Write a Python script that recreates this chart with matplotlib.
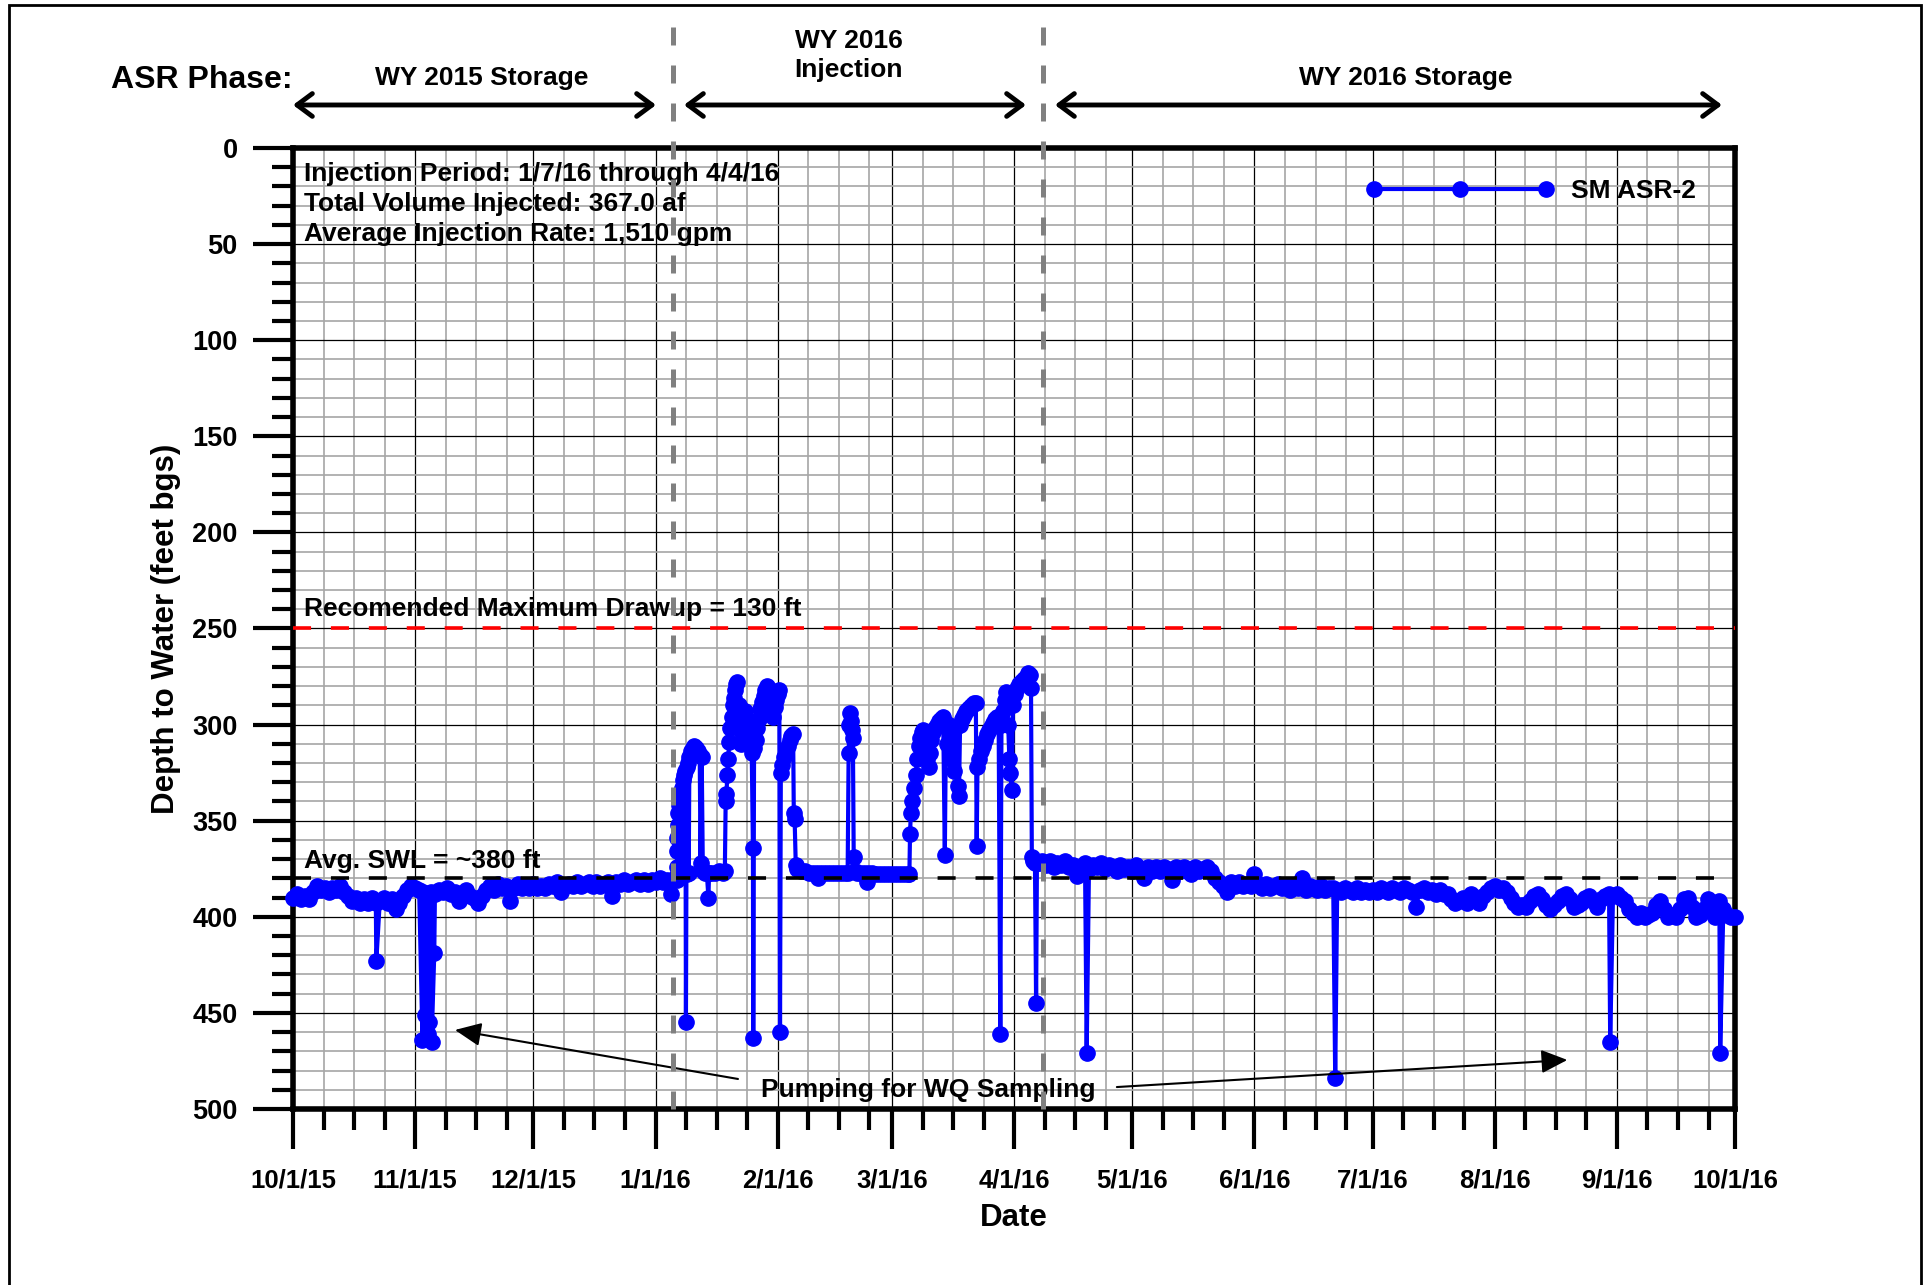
import matplotlib
matplotlib.use('Agg')
import matplotlib.pyplot as plt
import matplotlib.dates as mdates
from matplotlib.ticker import MultipleLocator, FixedLocator
from matplotlib.legend_handler import HandlerLine2D
from matplotlib.patches import Rectangle
import pandas as pd

plt.rcParams['font.family'] = ['Liberation Sans', 'DejaVu Sans']
plt.rcParams['font.weight'] = 'bold'

# daily depth to water, WY 2015 storage (10/1/15 - 1/6/16)
storage15_start = '2015-10-01'
storage15_oct = [390, 388, 391, 389, 391, 387, 384, 386, 385, 387, 385, 386, 384, 387, 389, 392,
                 390, 393, 391, 393, 390, 393, 392, 390, 393, 391, 396, 393, 389, 386, 384]
storage15_nov = [385, 386, 387, 388, 387, 388, 386, 387, 385, 388, 387, 392, 388, 386, 389, 390,
                 393, 389, 386, 384, 386, 383, 385, 384, 392, 385, 383, 385, 384, 385]
storage15_dec = [383, 385, 384, 385, 383, 384, 382, 387, 384, 383, 384, 382, 384, 383, 382, 384,
                 382, 384, 383, 382, 389, 382, 383, 381, 383, 382, 381, 383, 381, 383, 381]
storage15_jan = [382, 380, 382, 381, 388, 380]

# injection period readings (irregular times)
injection_time = [
    '2016-01-06 10:00', '2016-01-06 11:00', '2016-01-06 12:00', '2016-01-06 13:00',
    '2016-01-06 14:00', '2016-01-06 17:00', '2016-01-06 19:00', '2016-01-06 22:00',
    '2016-01-07 00:00', '2016-01-07 04:00', '2016-01-07 07:00', '2016-01-07 10:00',
    '2016-01-07 14:00', '2016-01-07 19:00', '2016-01-08 00:00', '2016-01-08 04:00',
    '2016-01-08 07:00', '2016-01-08 14:00', '2016-01-08 17:00', '2016-01-08 22:00',
    '2016-01-09 02:00', '2016-01-09 05:00', '2016-01-09 10:00', '2016-01-09 14:00',
    '2016-01-10 00:00', '2016-01-10 10:00',
    '2016-01-10 19:00', '2016-01-11 07:00', '2016-01-11 19:00', '2016-01-12 05:00',
    '2016-01-12 10:00', '2016-01-12 17:00', '2016-01-13 00:00', '2016-01-13 12:00',
    '2016-01-14 00:00', '2016-01-14 10:00', '2016-01-14 14:00', '2016-01-15 00:00',
    '2016-01-16 00:00', '2016-01-17 00:00', '2016-01-18 00:00', '2016-01-18 14:00',
    '2016-01-18 19:00', '2016-01-19 00:00', '2016-01-19 05:00', '2016-01-19 10:00',
    '2016-01-19 17:00', '2016-01-20 00:00', '2016-01-20 07:00', '2016-01-20 14:00',
    '2016-01-20 22:00', '2016-01-21 05:00', '2016-01-21 12:00', '2016-01-21 19:00',
    '2016-01-22 02:00', '2016-01-22 10:00', '2016-01-22 17:00', '2016-01-23 00:00',
    '2016-01-23 10:00', '2016-01-23 19:00', '2016-01-24 05:00', '2016-01-24 14:00',
    '2016-01-25 00:00', '2016-01-25 10:00', '2016-01-25 17:00', '2016-01-25 19:00',
    '2016-01-26 00:00', '2016-01-26 10:00', '2016-01-26 19:00', '2016-01-27 05:00',
    '2016-01-27 14:00', '2016-01-28 00:00', '2016-01-28 10:00', '2016-01-28 19:00',
    '2016-01-29 05:00', '2016-01-29 14:00', '2016-01-30 00:00', '2016-01-30 10:00',
    '2016-01-30 19:00', '2016-01-31 05:00', '2016-01-31 14:00', '2016-02-01 00:00',
    '2016-02-01 10:00', '2016-02-01 14:00', '2016-02-01 19:00', '2016-02-02 05:00',
    '2016-02-02 14:00', '2016-02-03 00:00', '2016-02-03 12:00', '2016-02-04 00:00',
    '2016-02-04 12:00', '2016-02-04 22:00', '2016-02-05 02:00', '2016-02-05 07:00',
    '2016-02-05 14:00', '2016-02-06 00:00', '2016-02-07 00:00', '2016-02-08 00:00',
    '2016-02-09 00:00', '2016-02-10 00:00', '2016-02-11 00:00', '2016-02-11 07:00',
    '2016-02-12 00:00', '2016-02-13 00:00', '2016-02-14 00:00', '2016-02-15 00:00',
    '2016-02-16 00:00', '2016-02-17 00:00', '2016-02-18 00:00', '2016-02-18 18:00',
    '2016-02-19 00:00', '2016-02-19 05:00', '2016-02-19 10:00', '2016-02-19 14:00',
    '2016-02-19 22:00', '2016-02-20 02:00', '2016-02-20 07:00', '2016-02-20 14:00',
    '2016-02-21 00:00', '2016-02-22 00:00', '2016-02-23 00:00', '2016-02-23 14:00',
    '2016-02-24 00:00', '2016-02-25 00:00', '2016-02-26 00:00', '2016-02-27 00:00',
    '2016-02-28 00:00', '2016-02-29 00:00', '2016-03-01 00:00', '2016-03-02 00:00',
    '2016-03-03 00:00', '2016-03-04 00:00', '2016-03-05 00:00', '2016-03-05 10:00',
    '2016-03-05 14:00', '2016-03-05 19:00', '2016-03-06 05:00', '2016-03-06 14:00',
    '2016-03-07 00:00', '2016-03-07 10:00', '2016-03-07 19:00', '2016-03-08 05:00',
    '2016-03-08 14:00', '2016-03-09 00:00', '2016-03-09 12:00', '2016-03-10 00:00',
    '2016-03-10 07:00', '2016-03-10 14:00', '2016-03-11 00:00', '2016-03-11 12:00',
    '2016-03-12 00:00', '2016-03-12 12:00', '2016-03-13 00:00', '2016-03-13 12:00',
    '2016-03-14 00:00', '2016-03-14 10:00', '2016-03-14 17:00', '2016-03-15 02:00',
    '2016-03-15 12:00', '2016-03-16 00:00', '2016-03-16 10:00', '2016-03-16 19:00',
    '2016-03-17 05:00', '2016-03-17 17:00', '2016-03-18 00:00', '2016-03-18 07:00',
    '2016-03-18 19:00', '2016-03-19 07:00', '2016-03-19 19:00', '2016-03-20 07:00',
    '2016-03-20 19:00', '2016-03-21 07:00', '2016-03-21 19:00', '2016-03-22 07:00',
    '2016-03-22 12:00', '2016-03-22 17:00', '2016-03-23 02:00', '2016-03-23 14:00',
    '2016-03-24 02:00', '2016-03-24 14:00', '2016-03-25 02:00', '2016-03-25 14:00',
    '2016-03-26 02:00', '2016-03-26 14:00', '2016-03-27 02:00', '2016-03-27 14:00',
    '2016-03-28 02:00', '2016-03-28 12:00', '2016-03-28 19:00', '2016-03-29 05:00',
    '2016-03-29 14:00', '2016-03-30 00:00', '2016-03-30 12:00', '2016-03-30 19:00',
    '2016-03-31 02:00', '2016-03-31 10:00', '2016-03-31 17:00', '2016-04-01 05:00',
    '2016-04-01 17:00', '2016-04-02 05:00', '2016-04-02 17:00', '2016-04-03 05:00',
    '2016-04-03 17:00', '2016-04-04 05:00', '2016-04-04 14:00', '2016-04-05 00:00',
    '2016-04-05 07:00', '2016-04-05 12:00', '2016-04-05 19:00', '2016-04-06 07:00',
    '2016-04-06 14:00', '2016-04-06 19:00', '2016-04-07 07:00',
]
injection_depth = [
    381, 374, 366, 359, 352, 378, 346, 377,
    342, 379, 337, 376, 333, 378, 329, 377,
    326, 324, 455, 322, 378, 320, 377, 317,
    314, 312,
    311, 312, 314, 316, 372, 317, 376, 377,
    377, 390, 377, 377, 377, 376, 377, 376,
    340, 336, 326, 318, 309, 302, 296, 290, 286, 282, 279, 278,
    290, 300, 310, 305, 298, 293, 297, 305, 311, 315, 364, 463,
    312, 308, 302, 297, 292, 288, 285, 282, 280, 281, 287, 294,
    296, 291, 287, 284, 282, 460, 325, 321, 317, 314, 311, 308,
    306, 305, 346, 349, 373, 375, 376, 376, 377, 377, 377, 380,
    377, 377, 377, 377, 377, 377, 377, 377,
    315, 300, 294, 298, 303, 307, 369, 376,
    377, 377, 377, 382, 377, 377, 378, 378, 378, 378, 378, 378,
    378, 378, 378, 378,
    357, 346, 340, 333, 326, 318, 311, 307, 304, 303, 305, 318,
    322, 315, 308, 304, 302, 300, 298, 297, 296, 368, 299, 310,
    300, 318, 302, 324, 301, 332, 337, 300, 297, 295, 293, 292,
    291, 290, 289, 289, 363, 322, 318, 314, 311, 308, 305, 303,
    301, 299, 297, 296, 300, 461, 300, 293, 287, 283, 300, 318,
    325, 334, 290, 284, 281, 279, 278, 277, 276, 275, 273, 274,
    281, 369, 371, 372, 445, 372, 372,
]

# daily depth to water, WY 2016 storage (4/8/16 - 10/1/16)
storage16_start = '2016-04-08'
storage16_apr = [371, 373, 371, 374, 372, 373, 371, 374, 373, 379, 374, 372, 375, 373, 374, 372,
                 375, 373, 374, 376, 373, 375, 374]
storage16_may = [376, 373, 375, 380, 374, 376, 374, 376, 374, 375, 381, 374, 376, 374, 376, 378,
                 374, 376, 375, 374, 376, 380, 382, 384, 387, 382, 384, 382, 384, 383, 384]
storage16_jun = [378, 383, 385, 383, 385, 384, 383, 385, 384, 386, 384, 385, 380, 386, 384, 385,
                 386, 384, 386, 385, 385, 386, 387, 385, 386, 387, 385, 387, 386, 387]
storage16_jul = [386, 387, 385, 386, 387, 385, 386, 387, 385, 386, 387, 395, 386, 385, 387, 386,
                 388, 386, 388, 388, 391, 393, 392, 390, 393, 388, 391, 393, 389, 387, 385]
storage16_aug = [384, 386, 385, 387, 390, 393, 395, 394, 395, 392, 389, 388, 391, 394, 396, 394,
                 392, 389, 388, 391, 395, 394, 393, 390, 389, 392, 395, 391, 389, 388, 389]
storage16_sep = [388, 390, 392, 396, 398, 400, 398, 400, 399, 398, 394, 392, 396, 400, 399, 400,
                 396, 391, 390, 395, 400, 399, 396, 391, 394, 400, 392, 396, 399, 400]
storage16_oct = [400]

# pumping for water-quality sampling during storage
sampling_time = ['2015-10-22 03:00', '2015-11-02 20:00', '2015-11-03 12:00', '2015-11-04 04:00',
                 '2015-11-04 14:00', '2015-11-05 04:00', '2015-11-05 20:00', '2016-04-19 10:00',
                 '2016-06-21 12:00', '2016-08-30 07:00', '2016-09-27 05:00']
sampling_depth = [423, 464, 451, 461, 455, 465, 419, 471, 484, 465, 471]

phase_breaks = ['2016-01-05 10:00', '2016-04-08 10:00']
info_lines = ['Injection Period: 1/7/16 through 4/4/16',
              'Total Volume Injected: 367.0 af',
              'Average Injection Rate: 1,510 gpm']

# assemble the series
s15 = storage15_oct + storage15_nov + storage15_dec + storage15_jan
s16 = storage16_apr + storage16_may + storage16_jun + storage16_jul + storage16_aug + storage16_sep + storage16_oct
df = pd.concat([
    pd.DataFrame({'time': pd.date_range(storage15_start, periods=len(s15), freq='D'), 'depth': s15}),
    pd.DataFrame({'time': pd.to_datetime(injection_time), 'depth': injection_depth}),
    pd.DataFrame({'time': pd.date_range(storage16_start, periods=len(s16), freq='D'), 'depth': s16}),
    pd.DataFrame({'time': pd.to_datetime(sampling_time), 'depth': sampling_depth}),
]).sort_values('time')

fig = plt.figure(figsize=(19.32, 12.85), dpi=100)
ax = fig.add_axes([0.1517, 0.1370, 0.7464, 0.7478])

line, = ax.plot(df['time'], df['depth'], color='#0000ff', lw=3, marker='o', ms=11,
                mec='#0000ff', clip_on=False, zorder=3, label='SM ASR-2')

ax.axhline(250, color='#ff0000', lw=2.6, ls=(0, (5, 5.5)), zorder=4)
ax.axhline(380, color='black', lw=2.6, ls=(0, (5, 5.5)), zorder=4)
for t in phase_breaks:
    ax.axvline(pd.Timestamp(t), ymin=0, ymax=1.1415, color='#808080', lw=3.6,
               ls=(0, (3.6, 4.0)), clip_on=False, zorder=6)

# axes
ax.set_xlim(pd.Timestamp('2015-10-01'), pd.Timestamp('2016-10-01'))
ax.set_ylim(500, 0)
ax.xaxis.set_major_locator(mdates.MonthLocator())
ax.xaxis.set_major_formatter(mdates.DateFormatter('%-m/%-d/%y'))
months = pd.date_range('2015-10-01', '2016-09-01', freq='MS')
minor = [m + pd.Timedelta(days=7.75 * k) for m in months for k in (1, 2, 3)]
ax.xaxis.set_minor_locator(FixedLocator(mdates.date2num(minor)))
ax.yaxis.set_major_locator(MultipleLocator(50))
ax.yaxis.set_minor_locator(MultipleLocator(10))

ax.grid(which='major', color='black', lw=0.9)
ax.grid(which='minor', color='#a6a6a6', lw=1.2)
ax.set_axisbelow(True)

ax.tick_params(which='major', direction='out', length=29, width=3)
ax.tick_params(which='minor', direction='out', length=15, width=3)
ax.tick_params(axis='x', which='major', pad=14, labelsize=18.5)
ax.tick_params(axis='y', which='major', pad=11, labelsize=19.5)
for sp in ax.spines.values():
    sp.set_linewidth(4)

ax.set_xlabel('Date', fontsize=22.5, fontweight='bold', va='top')
ax.xaxis.set_label_coords(0.5, -0.0978)
ax.set_ylabel('Depth to Water (feet bgs)', fontsize=22.5, fontweight='bold')
ax.yaxis.set_label_coords(-0.078, 0.5)

# legend
ax.legend(handles=[line], loc='center left', bbox_to_anchor=(0.7497, 0.9553), frameon=False,
          fontsize=19, handlelength=6.5, handletextpad=0.97, borderpad=0, borderaxespad=0,
          handler_map={line: HandlerLine2D(numpoints=3, marker_pad=0)})

# annotations inside the plot
for s, y in zip(info_lines, [0.9661, 0.9340, 0.9033]):
    ax.text(0.0076, y, s, transform=ax.transAxes, fontsize=19, va='baseline')
ax.text(pd.Timestamp('2015-10-03 18:00'), 243.7, 'Recomended Maximum Drawup = 130 ft',
        fontsize=19, va='baseline')
ax.text(pd.Timestamp('2015-10-03 18:00'), 374.6, 'Avg. SWL = ~380 ft', fontsize=19, va='baseline')

ax.text(pd.Timestamp('2016-03-10 05:00'), 493.8, 'Pumping for WQ Sampling', fontsize=19,
        ha='center', va='baseline')
arrow = dict(arrowstyle='-|>,head_length=0.4,head_width=0.18', mutation_scale=40,
             color='black', lw=1.5, shrinkA=0, shrinkB=0)
ax.annotate('', xy=(pd.Timestamp('2015-11-11 02:00'), 458.9),
            xytext=(pd.Timestamp('2016-01-21 22:00'), 484.4), arrowprops=arrow)
ax.annotate('', xy=(pd.Timestamp('2016-08-19 10:00'), 474.5),
            xytext=(pd.Timestamp('2016-04-27 02:00'), 488.6), arrowprops=arrow)

# ASR phase header
fig.text(111 / 1932, 0.9313, 'ASR Phase:', fontsize=23, va='baseline')
fig.text(482 / 1932, 0.9335, 'WY 2015 Storage', fontsize=19, ha='center', va='baseline')
fig.text(849 / 1932, 0.9627, 'WY 2016', fontsize=19, ha='center', va='baseline')
fig.text(849 / 1932, 0.9400, 'Injection', fontsize=19, ha='center', va='baseline')
fig.text(1406 / 1932, 0.9335, 'WY 2016 Storage', fontsize=19, ha='center', va='baseline')
phase_arrow = dict(arrowstyle='<->,head_length=0.55,head_width=0.41', mutation_scale=20,
                   color='black', lw=3.5, shrinkA=0, shrinkB=0)
for x0, x1 in [(293, 656), (684, 1026), (1055, 1722)]:
    ax.annotate('', xy=(x1 / 1932, 0.9183), xytext=(x0 / 1932, 0.9183),
                xycoords='figure fraction', textcoords='figure fraction',
                arrowprops=phase_arrow, annotation_clip=False)

# page border
fig.add_artist(Rectangle((9 / 1932, -0.05), 1912 / 1932, 1.05 - 5 / 1285,
                         transform=fig.transFigure, fill=False, lw=2, ec='black'))

fig.savefig('out.png', dpi=100)
